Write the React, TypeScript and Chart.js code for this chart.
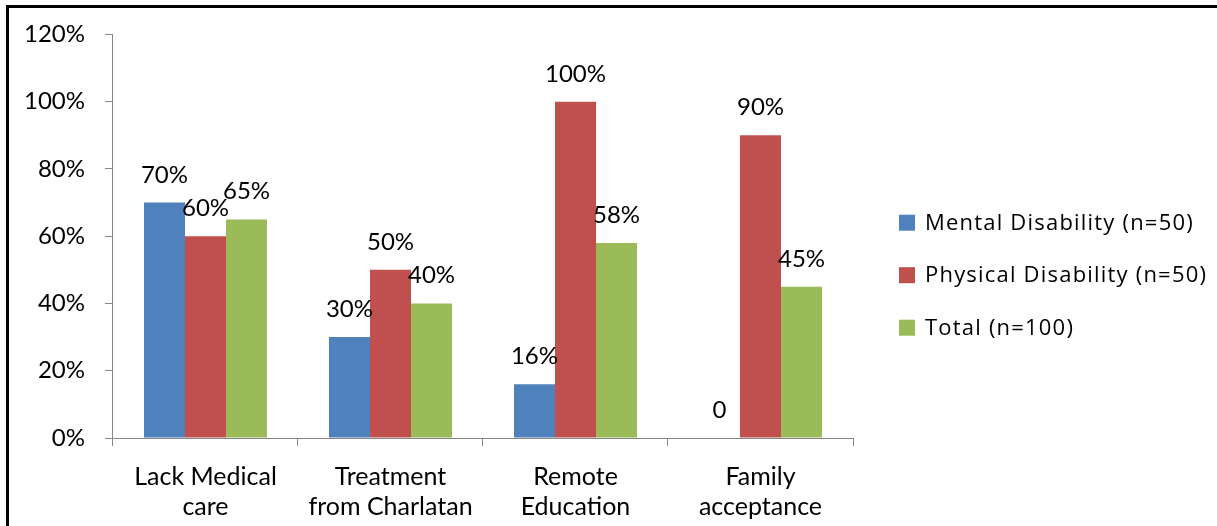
import React, { useEffect, useRef } from "react";
import { Chart, registerables } from "chart.js";

Chart.register(...registerables);

const categories: string[][] = [
  ["Lack Medical", "care"],
  ["Treatment", "from Charlatan"],
  ["Remote", "Education"],
  ["Family", "acceptance"],
];
const mentalDisability = [70, 30, 16, 0];
const physicalDisability = [60, 50, 100, 90];
const totalValues = [65, 40, 58, 45];
const seriesNames = ["Mental Disability (n=50)", "Physical Disability (n=50)", "Total (n=100)"];
const seriesColors = ["#4F81BD", "#C0504D", "#9BBB59"];
const yTicks = { min: 0, max: 120, step: 20 };

const FONT = "Lato, 'Open Sans', sans-serif";
const LEGEND_FONT = "'Open Sans', Lato, sans-serif";
const AXIS_GRAY = "#868686";

const fmt = (v: number) => (v === 0 ? "0" : `${v}%`);

const valueLabels = {
  id: "valueLabels",
  afterDatasetsDraw(chart: any) {
    const ctx = chart.ctx as CanvasRenderingContext2D;
    ctx.save();
    ctx.font = `24px ${FONT}`;
    ctx.fillStyle = "#000";
    ctx.textAlign = "center";
    ctx.textBaseline = "alphabetic";
    chart.data.datasets.forEach((ds: any, di: number) => {
      const meta = chart.getDatasetMeta(di);
      meta.data.forEach((el: any, i: number) => {
        const v = ds.data[i] as number;
        ctx.fillText(fmt(v), el.x, el.y - 20);
      });
    });
    ctx.restore();
  },
};

// Legend drawn on the right of the chart area from the datasets' labels and colours
const sideLegend = {
  id: "sideLegend",
  afterDraw(chart: any) {
    const ctx = chart.ctx as CanvasRenderingContext2D;
    const area = chart.chartArea;
    const boxX = area.right + 46;
    const spacing = 52.5;
    const n = chart.data.datasets.length;
    const midY = (area.top + area.bottom) / 2 + 39;
    ctx.save();
    ctx.font = `22px ${LEGEND_FONT}`;
    (ctx as any).letterSpacing = "1.2px";
    ctx.textBaseline = "middle";
    ctx.textAlign = "left";
    chart.data.datasets.forEach((ds: any, i: number) => {
      const cy = midY + (i - (n - 1) / 2) * spacing;
      ctx.fillStyle = ds.backgroundColor;
      ctx.fillRect(boxX, cy - 8, 16, 16);
      ctx.fillStyle = "#000";
      ctx.fillText(ds.label, boxX + 26, cy + 1);
    });
    ctx.restore();
  },
};

export default function App() {
  const ref = useRef<HTMLCanvasElement>(null);
  useEffect(() => {
    if (!ref.current) return;
    const chart = new Chart(ref.current, {
      type: "bar",
      data: {
        labels: categories,
        datasets: [mentalDisability, physicalDisability, totalValues].map((d, i) => ({
          label: seriesNames[i],
          data: d,
          backgroundColor: seriesColors[i],
          borderWidth: 0,
          categoryPercentage: 0.665,
          barPercentage: 1,
        })),
      },
      options: {
        animation: false,
        responsive: false,
        maintainAspectRatio: false,
        layout: { padding: { top: 15, left: 4, right: 364, bottom: 4 } },
        plugins: {
          tooltip: { enabled: false },
          legend: { display: false },
        },
        scales: {
          x: {
            grid: {
              display: true,
              drawOnChartArea: false,
              drawTicks: true,
              tickLength: 8,
              color: AXIS_GRAY,
              offset: true,
            },
            border: { display: true, color: AXIS_GRAY },
            ticks: {
              color: "#000",
              padding: 16,
              maxRotation: 0,
              autoSkip: false,
              font: { family: FONT, size: 25, lineHeight: 1.2 },
            },
            afterFit: (s: any) => {
              s.height = 84;
            },
          },
          y: {
            min: yTicks.min,
            max: yTicks.max,
            grid: {
              display: true,
              drawOnChartArea: false,
              drawTicks: true,
              tickLength: 8,
              color: AXIS_GRAY,
            },
            border: { display: true, color: AXIS_GRAY },
            ticks: {
              stepSize: yTicks.step,
              color: "#000",
              padding: 20,
              font: { family: FONT, size: 24 },
              callback: (v: any) => `${v}%`,
            },
          },
        },
      },
      plugins: [valueLabels, sideLegend],
    });
    return () => chart.destroy();
  }, []);

  return (
    <div style={{ position: "fixed", left: 0, top: 0, width: 1217, height: 526, background: "#fff", overflow: "hidden" }}>
      <canvas ref={ref} width={1217} height={526} style={{ position: "absolute", left: 0, top: 0, width: 1217, height: 526 }} />
      <div
        style={{
          position: "absolute",
          left: 6,
          top: 5,
          right: 0,
          bottom: 0,
          borderTop: "3px solid #000",
          borderLeft: "3px solid #000",
          pointerEvents: "none",
        }}
      />
    </div>
  );
}
